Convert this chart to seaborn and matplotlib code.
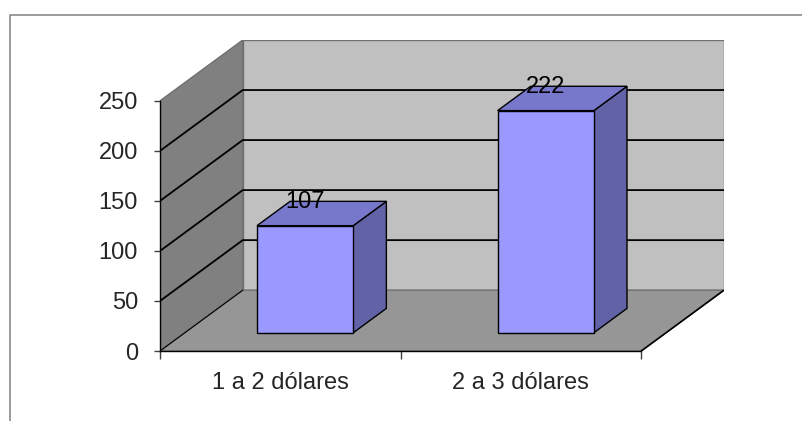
import matplotlib
matplotlib.use("Agg")
import matplotlib.pyplot as plt
import matplotlib.transforms as mtransforms
from matplotlib.patches import Polygon
from matplotlib.lines import Line2D
import seaborn as sns
import pandas as pd

categories = ["1 a 2 dólares", "2 a 3 dólares"]
values = [107, 222]
y_ticks = [0, 50, 100, 150, 200, 250]

sns.set_theme(style="ticks")
plt.rcParams["font.family"] = ["Liberation Sans", "DejaVu Sans"]

W, H = 803, 421
fig = plt.figure(figsize=(W / 100, H / 100), dpi=100)
fig.patch.set_facecolor("white")

# depth vector of the 3D box (x in category units, y in value units)
DX, DY = 0.344, 60.8
YMAX = y_ticks[-1]
x_lo, x_hi = -0.5, len(categories) - 0.5
# bars sit between these depth fractions
D0, D1 = 0.3, 0.7
FS = 17

left_px, right_px = 160, 724
bottom_px, top_px = 351, 40
ax = fig.add_axes([left_px / W, 1 - bottom_px / H,
                   (right_px - left_px) / W, (bottom_px - top_px) / H])
ax.patch.set_alpha(0)

df = pd.DataFrame({"rango": categories, "n": values})
sns.barplot(data=df, x="rango", y="n", ax=ax, width=0.4, color="#9999FF",
            saturation=1, edgecolor="black", linewidth=1)

# walls and floor
wall_edge = "#707070"
left_wall = Polygon([(x_lo, 0), (x_lo + DX, DY), (x_lo + DX, YMAX + DY), (x_lo, YMAX)],
                    closed=True, facecolor="#808080", edgecolor=wall_edge, lw=1, zorder=0.5)
back_wall = Polygon([(x_lo + DX, DY), (x_hi + DX, DY), (x_hi + DX, YMAX + DY), (x_lo + DX, YMAX + DY)],
                    closed=True, facecolor="#C0C0C0", edgecolor=wall_edge, lw=1, zorder=0.5)
floor = Polygon([(x_lo, 0), (x_hi, 0), (x_hi + DX, DY), (x_lo + DX, DY)],
                closed=True, facecolor="#969696", edgecolor=wall_edge, lw=1, zorder=0.5)
for p in (left_wall, back_wall, floor):
    ax.add_patch(p)

# gridlines running across the left wall and the back wall
for t in y_ticks[1:-1]:
    ax.plot([x_lo, x_lo + DX, x_hi + DX], [t, t + DY, t + DY],
            color="black", lw=1.3, zorder=0.8, solid_joinstyle="miter")
# floor edges
ax.plot([x_lo, x_lo + DX], [0, DY], color="black", lw=0.8, zorder=0.9)
ax.plot([x_hi, x_hi + DX], [0, DY], color="black", lw=1.2, zorder=0.9)

# extrude every bar into a box
shift = mtransforms.Affine2D().translate(D0 * DX, D0 * DY) + ax.transData
top_col, side_col = "#7777CC", "#6262A6"
for bar, v in zip(ax.patches[:len(values)], values):
    x0 = bar.get_x()
    x1 = x0 + bar.get_width()
    h = bar.get_height()
    side = Polygon([(x1 + D0 * DX, D0 * DY), (x1 + D1 * DX, D1 * DY),
                    (x1 + D1 * DX, h + D1 * DY), (x1 + D0 * DX, h + D0 * DY)],
                   closed=True, facecolor=side_col, edgecolor="black", lw=1, zorder=2)
    top = Polygon([(x0 + D0 * DX, h + D0 * DY), (x1 + D0 * DX, h + D0 * DY),
                   (x1 + D1 * DX, h + D1 * DY), (x0 + D1 * DX, h + D1 * DY)],
                  closed=True, facecolor=top_col, edgecolor="black", lw=1, zorder=2)
    ax.add_patch(side)
    ax.add_patch(top)
    bar.set_transform(shift)
    bar.set_zorder(3)
    ax.annotate(f"{v}", xy=((x0 + x1) / 2 + D0 * DX, h + D0 * DY),
                xytext=(0, 12.5), textcoords="offset points",
                ha="center", va="baseline", fontsize=FS, color="black", zorder=4)

ax.set_xlim(x_lo, x_hi + DX)
ax.set_ylim(0, YMAX + DY)

for s in ("top", "right"):
    ax.spines[s].set_visible(False)
ax.spines["left"].set_bounds(0, YMAX)
ax.spines["bottom"].set_bounds(x_lo, x_hi)
for s in ("left", "bottom"):
    ax.spines[s].set_color("black")
    ax.spines[s].set_linewidth(1)
    ax.spines[s].set_zorder(1)

ax.set_yticks(y_ticks)
ax.set_yticklabels([str(t) for t in y_ticks])
ax.tick_params(axis="y", direction="out", length=4.3, width=1, color="#404040",
               pad=11.5, labelsize=FS, left=True)
ax.set_xticks([x_lo + i for i in range(len(categories) + 1)])
ax.set_xticklabels([])
ax.set_xticks(range(len(categories)), minor=True)
ax.set_xticklabels(categories, minor=True)
ax.tick_params(axis="x", which="major", direction="out", length=6, width=1,
               color="#404040", bottom=True)
ax.tick_params(axis="x", which="minor", length=0, pad=15, labelsize=FS, bottom=True)
ax.set_xlabel("")
ax.set_ylabel("")

# outer chart frame
fx = lambda px: px / W
fy = lambda py: 1 - py / H
fig.add_artist(Line2D([fx(10), fx(10), fx(803)], [fy(421), fy(15), fy(15)],
                      color="#8a8a8a", lw=1.2, transform=fig.transFigure))

fig.savefig("out.png", dpi=100, facecolor="white")
